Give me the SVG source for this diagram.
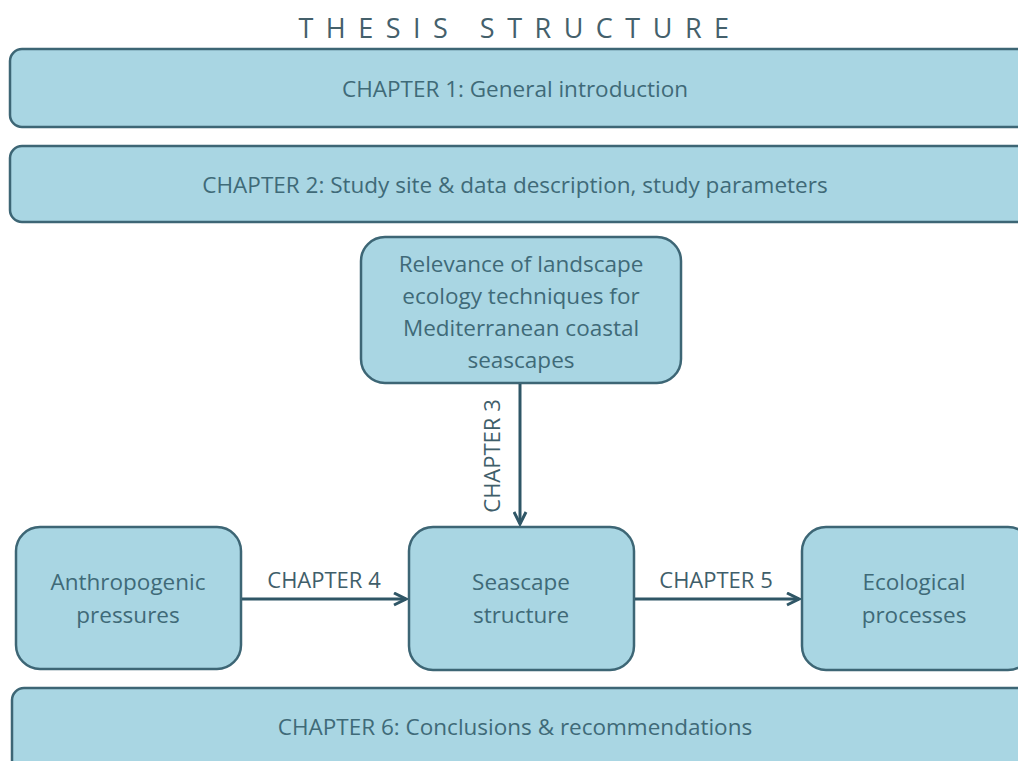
<svg xmlns="http://www.w3.org/2000/svg" width="1018" height="761" viewBox="0 0 1018 761">
<defs>
<style>
.box{fill:#a9d6e3;stroke:#3d6675;stroke-width:2.5}
.t{font-family:"Open Sans","Liberation Sans",sans-serif;fill:#3f6a78;text-anchor:middle;font-size:22.5px}
.lbl{font-family:"Open Sans","Liberation Sans",sans-serif;fill:#3f5e6a;font-size:22px}
.ln{stroke:#2f5666;stroke-width:3;fill:none}
</style>
<marker id="ah" viewBox="0 0 10 10" refX="9" refY="5" markerWidth="5" markerHeight="5" orient="auto" markerUnits="strokeWidth">
<path d="M1,1 L9,5 L1,9" fill="none" stroke="#2f5666" stroke-width="2"/>
</marker>
</defs>
<rect width="1018" height="761" fill="#ffffff"/>
<text x="520" y="38" font-family="Open Sans, Liberation Sans, sans-serif" font-size="27" fill="#44606b" text-anchor="middle" letter-spacing="12.5">THESIS STRUCTURE</text>
<g id="ch1"><rect class="box" x="10" y="49" width="1020" height="78" rx="12"/><text class="t" x="515" y="97">CHAPTER 1: General introduction</text></g>
<g id="ch2"><rect class="box" x="10" y="146" width="1020" height="76" rx="12"/><text class="t" x="515" y="193">CHAPTER 2: Study site &amp; data description, study parameters</text></g>
<g id="relevance"><rect class="box" x="361" y="237" width="320" height="146" rx="24"/>
<text class="t" x="521" y="272">Relevance of landscape</text>
<text class="t" x="521" y="304">ecology techniques for</text>
<text class="t" x="521" y="336">Mediterranean coastal</text>
<text class="t" x="521" y="368">seascapes</text></g>
<g id="anthro"><rect class="box" x="16" y="527" width="225" height="142" rx="24"/>
<text class="t" x="128" y="590">Anthropogenic</text><text class="t" x="128" y="623">pressures</text></g>
<g id="seascape"><rect class="box" x="409" y="527" width="225" height="143" rx="24"/>
<text class="t" x="521" y="590">Seascape</text><text class="t" x="521" y="623">structure</text></g>
<g id="eco"><rect class="box" x="802" y="527" width="230" height="143" rx="24"/>
<text class="t" x="914" y="590">Ecological</text><text class="t" x="914" y="623">processes</text></g>
<g id="ch6"><rect class="box" x="12" y="688" width="1020" height="90" rx="12"/><text class="t" x="515" y="735">CHAPTER 6: Conclusions &amp; recommendations</text></g>
<g id="connectors">
<line class="ln" x1="520" y1="384" x2="520" y2="524" marker-end="url(#ah)"/>
<text class="lbl" text-anchor="middle" transform="translate(500,456) rotate(-90)">CHAPTER 3</text>
<line class="ln" x1="242" y1="599" x2="406" y2="599" marker-end="url(#ah)"/>
<text class="lbl" x="324" y="588" text-anchor="middle">CHAPTER 4</text>
<line class="ln" x1="635" y1="599" x2="799" y2="599" marker-end="url(#ah)"/>
<text class="lbl" x="716" y="588" text-anchor="middle">CHAPTER 5</text>
</g>
</svg>
